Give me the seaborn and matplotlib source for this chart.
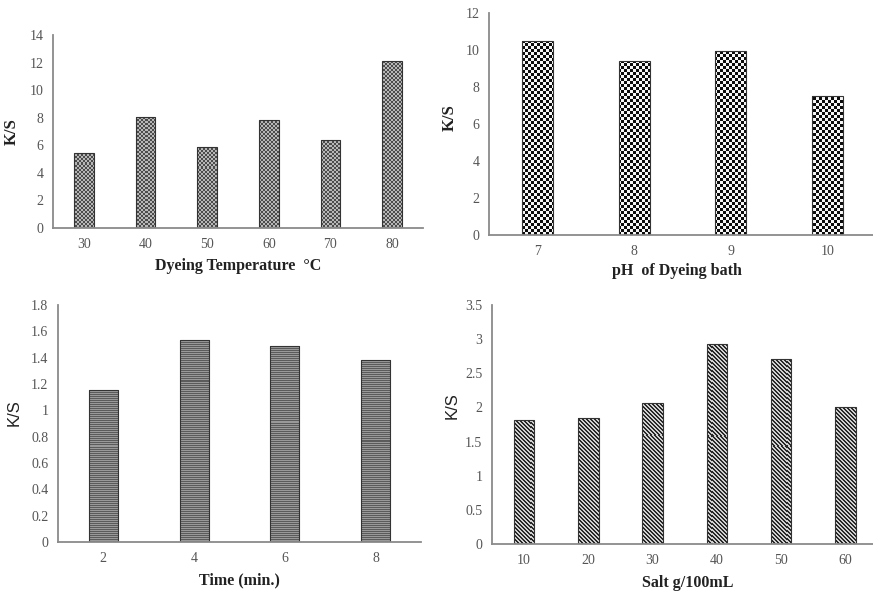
import numpy as np
import pandas as pd
import matplotlib
matplotlib.use("Agg")
import matplotlib.pyplot as plt
import seaborn as sns

# Dyeing temperature series
temp_labels = ["30", "40", "50", "60", "70", "80"]
temp_ks = [5.47, 8.02, 5.90, 7.83, 6.35, 12.08]

# pH of dyeing bath series
ph_labels = ["7", "8", "9", "10"]
ph_ks = [10.48, 9.41, 9.96, 7.50]

# Dyeing time series
time_labels = ["2", "4", "6", "8"]
time_ks = [1.156, 1.537, 1.490, 1.383]

# Salt concentration series
salt_labels = ["10", "20", "30", "40", "50", "60"]
salt_ks = [1.81, 1.84, 2.07, 2.93, 2.71, 2.00]

sns.set_style("white")
plt.rcParams["font.family"] = ["Liberation Serif", "DejaVu Serif"]

W, H, DPI = 873, 591, 100
fig = plt.figure(figsize=(W / DPI, H / DPI), dpi=DPI)


def texture(kind, h, w):
    i, j = np.mgrid[0:h, 0:w]
    if kind == "fine_checker":
        m = ((i // 2 + j // 2) % 2).astype(float)
        lo, hi = 0.30, 0.72
    elif kind == "checker":
        m = ((i // 3 + j // 3) % 2).astype(float)
        lo, hi = 0.05, 0.97
    elif kind == "hlines":
        m = (i % 2).astype(float)
        lo, hi = 0.36, 0.60
    else:  # diagonal stripes running top-left to bottom-right
        m = (((j - i) % 4) >= 2).astype(float)
        lo, hi = 0.16, 0.82
    g = lo + (hi - lo) * m
    return np.dstack([g, g, g])


def panel(rect, labels, values, kind, ymax, ystep, xlabel, ylabel,
          ylab_pos, xlab_pos, ylab_font, xlim):
    ax = fig.add_axes(rect)
    df = pd.DataFrame({"x": labels, "y": values})
    sns.barplot(data=df, x="x", y="y", order=labels, ax=ax, width=0.32,
                color="#777777", edgecolor="#333333", linewidth=0.8)
    pw = int(round(rect[2] * W))
    ph = int(round(rect[3] * H))
    tex = texture(kind, ph, pw)
    for bar in list(ax.patches):
        im = ax.imshow(tex, extent=(0, 1, 0, 1), transform=ax.transAxes,
                       interpolation="nearest", aspect="auto",
                       zorder=bar.get_zorder() - 0.1)
        im.set_clip_path(bar)
        bar.set_facecolor("none")
    ax.set_xlim(*xlim)
    ax.set_ylim(0, ymax)
    ax.set_aspect("auto")
    ticks = np.round(np.arange(0, ymax + ystep / 2, ystep), 2)
    ax.set_yticks(ticks)
    ax.set_yticklabels([("%g" % t) for t in ticks])
    for s in ["top", "right"]:
        ax.spines[s].set_visible(False)
    for s in ["left", "bottom"]:
        ax.spines[s].set_color("#8a8a8a")
        ax.spines[s].set_linewidth(1.3)
    ax.tick_params(length=0, labelsize=10, labelcolor="#555555", pad=7)
    ax.set_xlabel(xlabel, fontsize=11.5, fontweight="bold", color="#222222")
    ax.xaxis.set_label_coords(*xlab_pos)
    if ylab_font == "serif":
        ax.set_ylabel(ylabel, fontsize=12, fontweight="bold", color="#222222")
    else:
        ax.set_ylabel(ylabel, fontsize=12, color="#222222",
                      family=["Liberation Sans", "DejaVu Sans"])
    ax.yaxis.set_label_coords(*ylab_pos)
    return ax


panel([53 / W, 1 - 228 / H, 370 / W, 193 / H], temp_labels, temp_ks,
      "fine_checker", 14, 2, "Dyeing Temperature  \u00b0C", "K/S",
      (-0.089, 0.5), (0.5, -0.155), "serif", (-0.5, 5.5))

panel([489 / W, 1 - 235 / H, 384 / W, 222 / H], ph_labels, ph_ks,
      "checker", 12, 2, "pH  of Dyeing bath", "K/S",
      (-0.081, 0.53), (0.49, -0.126), "serif", (-0.5, 3.47))

panel([58 / W, 1 - 542 / H, 363 / W, 237 / H], time_labels, time_ks,
      "hlines", 1.8, 0.2, "Time (min.)", "K/S",
      (-0.099, 0.545), (0.5, -0.127), "sans", (-0.5, 3.5))

panel([492 / W, 1 - 544 / H, 381 / W, 239 / H], salt_labels, salt_ks,
      "diagonal", 3.5, 0.5, "Salt g/100mL", "K/S",
      (-0.084, 0.58), (0.515, -0.13), "sans", (-0.5, 5.43))

fig.savefig("out.png", dpi=DPI)
